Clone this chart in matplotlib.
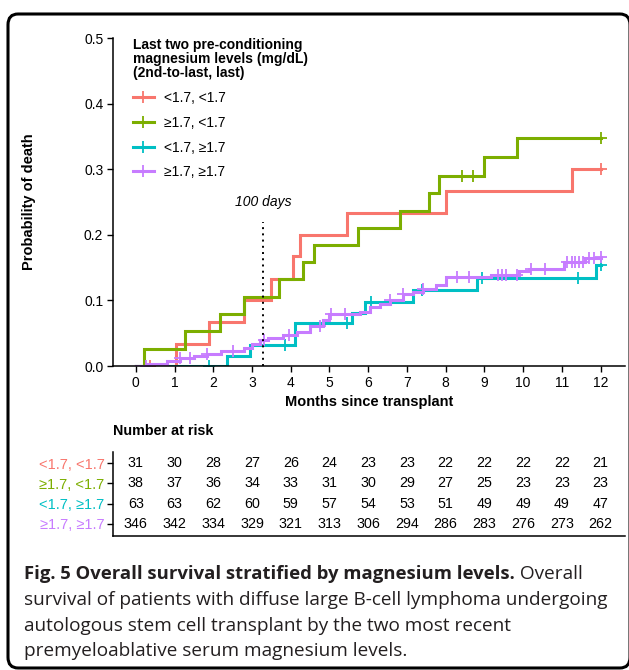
import numpy as np
import matplotlib.pyplot as plt
from matplotlib.lines import Line2D
from matplotlib.patches import FancyBboxPatch

plt.rcParams['font.family'] = ['Liberation Sans', 'DejaVu Sans']

W, H = 629, 670

# groups: (2nd-to-last, last) magnesium level
groups = ['<1.7, <1.7', '≥1.7, <1.7', '<1.7, ≥1.7', '≥1.7, ≥1.7']
colors = ['#F8766D', '#7CAE00', '#00BFC4', '#C77CFF']

# cumulative incidence of death, step curves (months, probability)
red_t = [0, 1.03, 1.9, 2.8, 3.5, 4.07, 4.25, 5.45, 8.0, 11.27, 12.0]
red_p = [0, 0.033, 0.067, 0.100, 0.133, 0.167, 0.200, 0.233, 0.267, 0.300, 0.300]
red_cens_t = [0.37, 12.0]
red_cens_p = [0.0, 0.300]

green_t = [0, 0.21, 1.26, 2.17, 2.8, 3.7, 4.31, 4.59, 5.74, 6.83, 7.57, 7.82, 9.0, 9.83, 12.0]
green_p = [0, 0.026, 0.053, 0.079, 0.105, 0.132, 0.158, 0.184, 0.211, 0.237, 0.263, 0.289,
           0.318, 0.347, 0.347]
green_cens_t = [8.43, 8.71, 12.0]
green_cens_p = [0.289, 0.289, 0.347]

cyan_t = [0, 2.36, 2.96, 4.12, 5.57, 5.91, 7.16, 8.82, 11.88, 12.0]
cyan_p = [0, 0.016, 0.032, 0.065, 0.081, 0.098, 0.116, 0.134, 0.154, 0.154]
cyan_cens_t = [1.88, 3.86, 5.44, 6.08, 7.38, 8.94, 11.41, 12.0]
cyan_cens_p = [0.0, 0.032, 0.065, 0.098, 0.116, 0.134, 0.134, 0.154]

purple_t = [0, 0.3, 0.8, 1.15, 1.5, 1.85, 2.2, 2.8, 3.0, 3.2, 3.4, 3.8, 4.15, 4.49, 4.83,
            5.0, 5.78, 6.04, 6.3, 6.55, 6.9, 7.15, 7.41, 7.75, 8.0, 9.18, 9.9, 10.15,
            11.05, 11.6, 12.0]
purple_p = [0, 0.003, 0.0075, 0.012, 0.015, 0.019, 0.023, 0.028, 0.033, 0.040, 0.043,
            0.047, 0.052, 0.061, 0.070, 0.080, 0.083, 0.090, 0.095, 0.101, 0.110, 0.113,
            0.117, 0.124, 0.135, 0.139, 0.145, 0.148, 0.159, 0.164, 0.166]
purple_cens_t = [0.25, 1.15, 1.4, 1.85, 2.5, 3.3, 3.95, 4.75, 5.05, 5.4, 6.55, 6.9, 7.41,
                 8.3, 8.6, 9.35, 9.45, 9.55, 9.85, 10.2, 10.57, 11.13, 11.25, 11.33,
                 11.45, 11.55, 11.7, 11.83, 12.0]
purple_cens_p = [0.0, 0.012, 0.012, 0.019, 0.023, 0.040, 0.047, 0.061, 0.080, 0.080,
                 0.101, 0.110, 0.117, 0.135, 0.135, 0.139, 0.139, 0.139, 0.139, 0.148,
                 0.148, 0.159, 0.159, 0.159, 0.159, 0.159, 0.164, 0.164, 0.166]

# number at risk table
months = list(range(13))
risk_red = [31, 30, 28, 27, 26, 24, 23, 23, 22, 22, 22, 22, 21]
risk_green = [38, 37, 36, 34, 33, 31, 30, 29, 27, 25, 23, 23, 23]
risk_cyan = [63, 63, 62, 60, 59, 57, 54, 53, 51, 49, 49, 49, 47]
risk_purple = [346, 342, 334, 329, 321, 313, 306, 294, 286, 283, 276, 273, 262]

caption_bold = 'Fig. 5 Overall survival stratified by magnesium levels.'
caption_lines = [' Overall',
                 'survival of patients with diffuse large B-cell lymphoma undergoing',
                 'autologous stem cell transplant by the two most recent',
                 'premyeloablative serum magnesium levels.']

curves = [(red_t, red_p, red_cens_t, red_cens_p),
          (green_t, green_p, green_cens_t, green_cens_p),
          (cyan_t, cyan_p, cyan_cens_t, cyan_cens_p),
          (purple_t, purple_p, purple_cens_t, purple_cens_p)]
risks = [risk_red, risk_green, risk_cyan, risk_purple]

fig = plt.figure(figsize=(W / 100, H / 100), dpi=100)

# rounded frame around the panel
frame = FancyBboxPatch((8 / W, 1 - 668 / H), 622 / W, 654 / H,
                       boxstyle='round,pad=0,rounding_size=0.016',
                       transform=fig.transFigure, fill=False, lw=2.2, ec='black',
                       clip_on=False)
fig.patches.append(frame)

# --- main plot
ax = fig.add_axes([113 / W, 1 - 366 / H, 512 / W, 328 / H])
for (t, p, ct, cp), c in zip(curves, colors):
    ax.step(t, p, where='post', color=c, lw=2.2, solid_joinstyle='miter')
    ax.plot(ct, cp, ls='none', marker='+', ms=8, mew=1.3, color=c)

ax.axvline(100 / 30.4, ymin=0, ymax=0.22 / 0.5, color='black', ls=(0, (1, 2.2)), lw=1.4)
ax.text(100 / 30.4, 0.25, '100 days', style='italic', fontsize=10, ha='center', va='center')

ax.set_xlim(-0.59, 12.63)
ax.set_ylim(0, 0.5)
ax.set_xticks(months)
ax.set_yticks([0, 0.1, 0.2, 0.3, 0.4, 0.5])
ax.set_yticklabels(['0.0', '0.1', '0.2', '0.3', '0.4', '0.5'])
ax.tick_params(labelsize=10, length=4, width=1, pad=3)
for s in ['top', 'right']:
    ax.spines[s].set_visible(False)
for s in ['left', 'bottom']:
    ax.spines[s].set_linewidth(1.1)
ax.set_xlabel('Months since transplant', fontsize=10.5, fontweight='bold', labelpad=4)
ax.set_ylabel('Probability of death', fontsize=10.5, fontweight='bold')
ax.yaxis.set_label_coords(-0.15, 0.5)

handles = [Line2D([], [], color=c, lw=2.2, marker='+', ms=8, mew=1.3) for c in colors]
leg = ax.legend(handles, groups, loc='upper left', bbox_to_anchor=(0.039, 1.0),
                frameon=False, fontsize=10, borderpad=0, borderaxespad=0,
                handlelength=1.5, handletextpad=0.75, labelspacing=0.78,
                title='Last two pre-conditioning\nmagnesium levels (mg/dL)\n(2nd-to-last, last)',
                title_fontsize=10, alignment='left')
leg.get_title().set_fontweight('bold')
leg.get_title().set_linespacing(1.0)

# --- number at risk table
tab = fig.add_axes([113 / W, 1 - 536 / H, 512 / W, 84 / H])
tab.set_xlim(-0.59, 12.63)
tab.set_ylim(4.6, 0.45)
for i, r in enumerate(risks):
    for m, n in zip(months, r):
        tab.text(m, i + 1, str(n), ha='center', va='center', fontsize=10.3)
tab.set_yticks([1, 2, 3, 4])
tab.set_yticklabels(groups)
for lab, c in zip(tab.get_yticklabels(), colors):
    lab.set_color(c)
tab.set_xticks([])
tab.tick_params(axis='y', labelsize=10.5, length=4, width=1, pad=2)
for s in ['top', 'right']:
    tab.spines[s].set_visible(False)
for s in ['left', 'bottom']:
    tab.spines[s].set_linewidth(1.1)
tab.set_title('Number at risk', loc='left', fontsize=10.3, fontweight='bold', pad=12)

# --- caption
cap_font = ['Open Sans', 'DejaVu Sans']
cap_y = [579, 605, 631, 656]
t0 = fig.text(24 / W, 1 - cap_y[0] / H, caption_bold, fontsize=13.3, fontweight='bold',
              family=cap_font, va='baseline', color='#231f20')
fig.canvas.draw()
bb = t0.get_window_extent()
fig.text(bb.x1 / W, 1 - cap_y[0] / H, caption_lines[0], fontsize=13.7, family=cap_font,
         va='baseline', color='#231f20')
for line, yy in zip(caption_lines[1:], cap_y[1:]):
    fig.text(24 / W, 1 - yy / H, line, fontsize=13.7, family=cap_font,
             va='baseline', color='#231f20')

fig.savefig('out.png', dpi=100)
